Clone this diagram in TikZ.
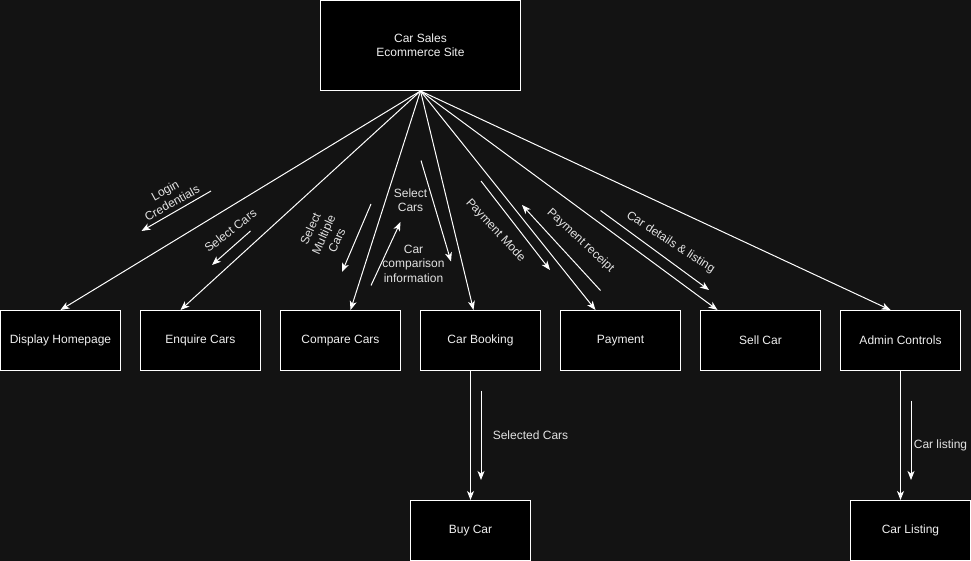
\documentclass[tikz,border=0pt]{standalone}
\usepackage{fontspec}
\setmainfont{Liberation Sans}
\usetikzlibrary{arrows.meta}
\usetikzlibrary{calc}

\definecolor{canvas}{HTML}{131313}
\definecolor{boxtext}{HTML}{F0F0F0}
\definecolor{notetext}{HTML}{E2E2E2}

\begin{document}
\begin{tikzpicture}[
      x=1pt, y=-1pt,
      font=\fontsize{12}{14.4}\selectfont,
      box/.style={draw=white,fill=black,line width=1pt,text=boxtext,
        minimum width=120pt,minimum height=60pt,inner sep=0pt,align=center},
      link/.style={white,line width=1pt,->},
      note/.style={text=notetext,inner sep=0pt,align=center},
      >={Stealth[length=9pt,width=7pt,inset=2.5pt]},
    ]
    \useasboundingbox[fill=canvas] (-0.5,-0.5) rectangle (970.5,560.5);
    % Main site and the modules below it.
    \node[box,minimum width=200pt,minimum height=90pt] (site) at (420,45) {Car Sales\\Ecommerce Site};
    \node[box] (home) at (60,340) {Display Homepage};
    \node[box] (enquire) at (200,340) {Enquire Cars};
    \node[box] (compare) at (340,340) {Compare Cars};
    \node[box] (booking) at (480,340) {Car Booking};
    \node[box] (payment) at (620,340) {Payment};
    \node[box] (sell) at (760,340) {Sell Car};
    \node[box] (admin) at (900,340) {Admin Controls};
    \node[box] (buy) at (470,530) {Buy Car};
    \node[box] (listing) at (910,530) {Car Listing};

    % Connectors from the site.
    \draw[link] (site.south) -- (home.north);
    \draw[link] (site.south) -- ([xshift=-20pt] enquire.north);
    \draw[link] (site.south) -- ([xshift=10pt] compare.north);
    \draw[link] (site.south) -- ([xshift=-7pt] booking.north);
    \draw[link] (site.south) -- ([xshift=-25pt] payment.north);
    \draw[link] (site.south) -- ([xshift=-43pt] sell.north);
    \draw[link] (site.south) -- ([xshift=-10pt] admin.north);
    \draw[link] ([xshift=-10pt] booking.south) -- (buy.north);
    \draw[link] (admin.south) -- ([xshift=-10pt] listing.north);

    % Data flow arrows with their labels.
    \coordinate (F1_a) at (210.5,190.5);
    \coordinate (F1_b) at (141,230.5);
    \draw[link] (F1_a) -- (F1_b);
    \node[note,rotate=29] (f1) at (168,196) {Login\\Credentials};

    \coordinate (F2_a) at (250,230.5);
    \coordinate (F2_b) at (211.5,264.5);
    \draw[link] (F2_a) -- (F2_b);
    \node[note,rotate=38] (f2) at (230,230) {Select Cars};

    \coordinate (F3_a) at (370.5,203.5);
    \coordinate (F3_b) at (341.5,271.5);
    \draw[link] (F3_a) -- (F3_b);
    \node[note,rotate=66] (f3) at (323,234) {Select\\Multiple\\Cars};

    \coordinate (F4_a) at (370.5,285);
    \coordinate (F4_b) at (400,221.5);
    \draw[link] (F4_a) -- (F4_b);
    \node[note] (f4) at (410,200) {Select\\Cars};

    \coordinate (F5_a) at (420.5,160);
    \coordinate (F5_b) at (450.5,261);
    \draw[link] (F5_a) -- (F5_b);
    \node[note] (f5) at (413,263) {Car\\comparison\\information};

    \coordinate (F6_a) at (480.5,180.5);
    \coordinate (F6_b) at (549.5,269.5);
    \draw[link] (F6_a) -- (F6_b);
    \node[note,rotate=-47] (f6) at (495,230) {Payment Mode};

    \coordinate (F7_a) at (600,290);
    \coordinate (F7_b) at (521.5,204.5);
    \draw[link] (F7_a) -- (F7_b);
    \node[note,rotate=-43] (f7) at (580,240) {Payment receipt};

    \coordinate (F8_a) at (600,210);
    \coordinate (F8_b) at (708.5,289.5);
    \draw[link] (F8_a) -- (F8_b);
    \node[note,rotate=-33] (f8) at (670,242) {Car details \& listing};

    \coordinate (F9_a) at (480.5,390);
    \coordinate (F9_b) at (480.5,479.5);
    \draw[link] (F9_a) -- (F9_b);
    \node[note] (f9) at (530,434.5) {Selected Cars};

    \coordinate (F10_a) at (910.5,400);
    \coordinate (F10_b) at (910.5,479.5);
    \draw[link] (F10_a) -- (F10_b);
    \node[note] (f10) at (940,444.5) {Car listing};
\end{tikzpicture}
\end{document}
